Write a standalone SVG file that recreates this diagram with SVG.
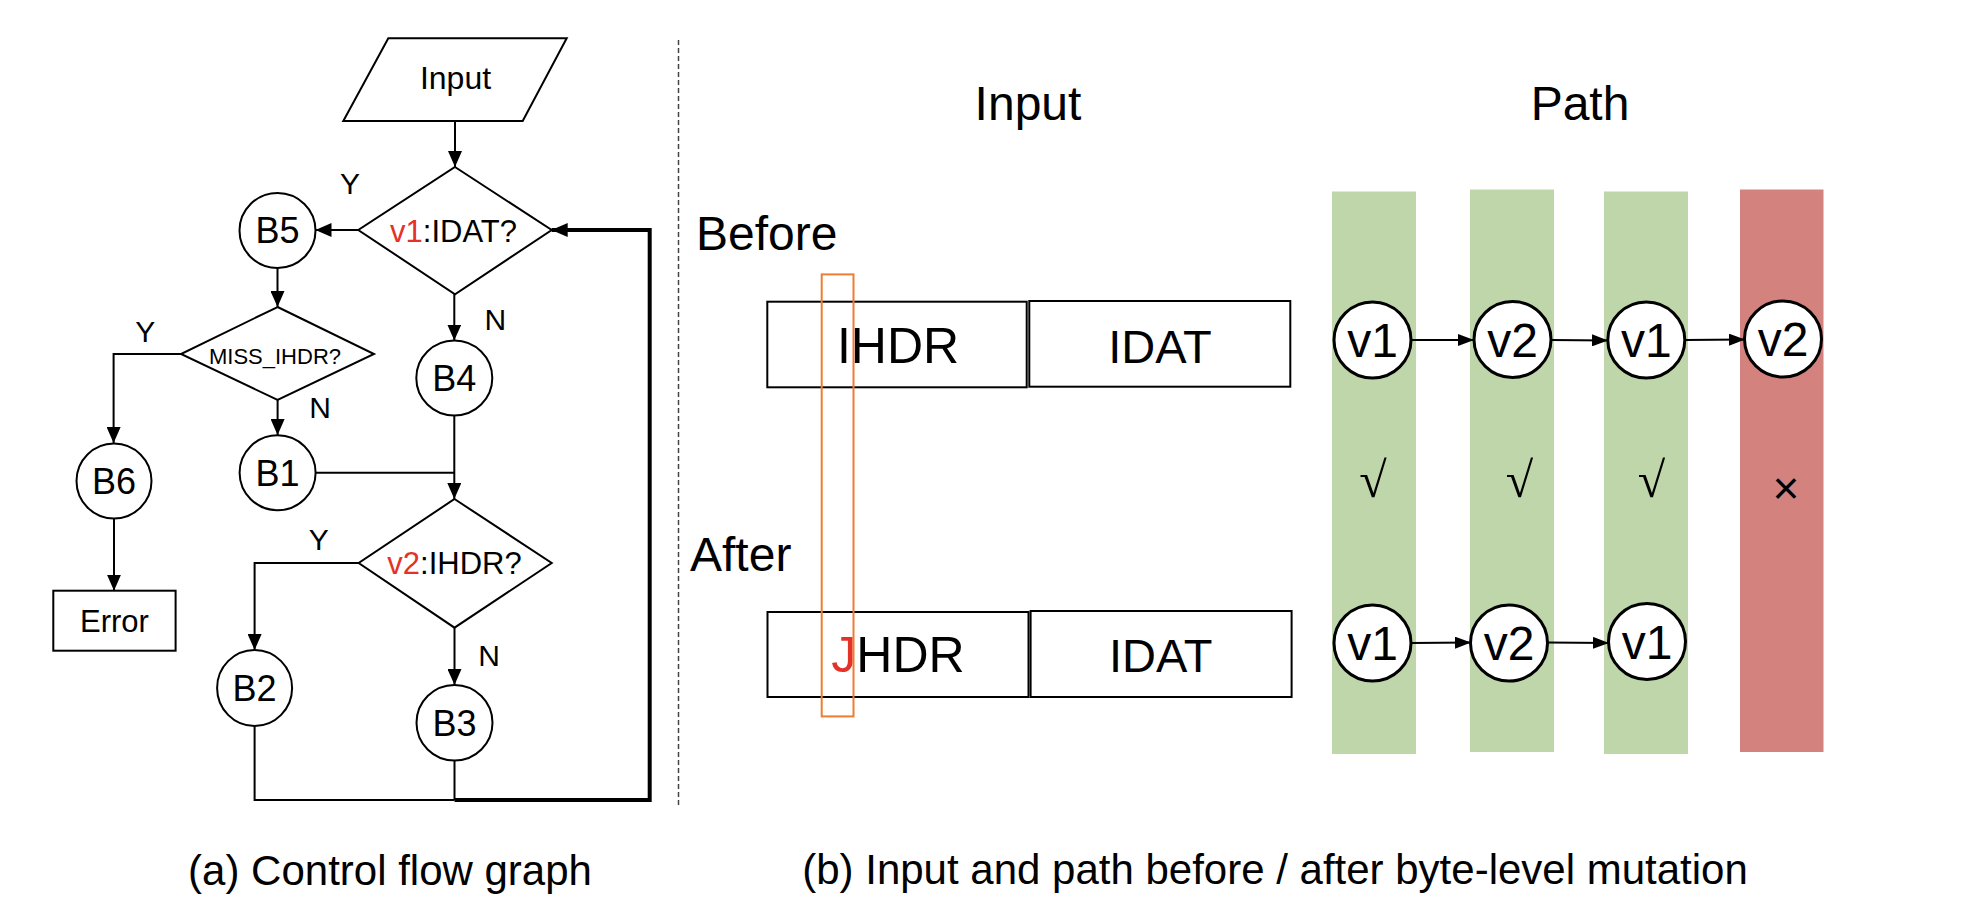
<svg xmlns="http://www.w3.org/2000/svg" width="1974" height="920" viewBox="0 0 1974 920">
<style>
text{font-family:"Liberation Sans",Arial,Helvetica,sans-serif;fill:#000}
.ln{fill:none;stroke:#000;stroke-width:2}
.thick{fill:none;stroke:#000;stroke-width:4}
.shape{fill:#fff;stroke:#000;stroke-width:2}
.node{fill:#fff;stroke:#000;stroke-width:3}
.cfg{font-size:31px;text-anchor:middle}
.bn{font-size:36px;text-anchor:middle}
.lbl{font-size:30px;text-anchor:middle}
.red{fill:#E53228}
.pv{font-size:48px;text-anchor:middle}
.box{fill:#fff;stroke:#000;stroke-width:2}
.green{fill:#BED6AA}
.bad{fill:#D3827E}
.mark{font-family:"Liberation Serif","DejaVu Serif",serif;font-size:50px;text-anchor:middle}
</style>
<defs>
<marker id="ah" markerUnits="userSpaceOnUse" markerWidth="16" markerHeight="14" viewBox="0 0 16 14" refX="16" refY="7" orient="auto"><path d="M0,0 L16,7 L0,14 z" fill="#000"/></marker>
<marker id="ah2" markerUnits="userSpaceOnUse" markerWidth="16" markerHeight="12" viewBox="0 0 16 12" refX="16" refY="6" orient="auto"><path d="M0,0 L16,6 L0,12 z" fill="#000"/></marker>
</defs>

<!-- separator -->
<line x1="678.5" y1="40" x2="678.5" y2="808" stroke="#444" stroke-width="1.5" stroke-dasharray="5 3"/>

<!-- (a) control flow graph -->
<g id="cfg-connectors">
<line class="ln" x1="455" y1="121" x2="455" y2="167" marker-end="url(#ah)"/>
<line class="ln" x1="358" y1="230" x2="315.5" y2="230" marker-end="url(#ah)"/>
<line class="ln" x1="277.5" y1="268" x2="277.5" y2="307" marker-end="url(#ah)"/>
<polyline class="ln" points="181,354 113.6,354 113.6,443" marker-end="url(#ah)"/>
<line class="ln" x1="277.6" y1="400" x2="277.6" y2="435" marker-end="url(#ah)"/>
<line class="ln" x1="454.3" y1="294" x2="454.3" y2="340.5" marker-end="url(#ah)"/>
<line class="ln" x1="454.3" y1="415.5" x2="454.3" y2="499" marker-end="url(#ah)"/>
<line class="ln" x1="315.6" y1="472.7" x2="454.3" y2="472.7"/>
<polyline class="ln" points="358.7,563 254.6,563 254.6,650" marker-end="url(#ah)"/>
<line class="ln" x1="454.5" y1="627.7" x2="454.5" y2="685" marker-end="url(#ah)"/>
<line class="ln" x1="114" y1="518.5" x2="114" y2="590.7" marker-end="url(#ah)"/>
<polyline class="ln" points="254.6,726 254.6,800 454.5,800"/>
<line class="ln" x1="454.5" y1="760.5" x2="454.5" y2="800"/>
<polyline class="thick" points="454.5,800 649.7,800 649.7,230 551.7,230" marker-end="url(#ah)"/>
<text class="lbl" x="350" y="193.5">Y</text>
<text class="lbl" x="145.3" y="341.7">Y</text>
<text class="lbl" x="495.4" y="330">N</text>
<text class="lbl" x="320" y="418">N</text>
<text class="lbl" x="318.8" y="550">Y</text>
<text class="lbl" x="489" y="665.7">N</text>
</g>

<g id="input">
<polygon class="shape" points="388.3,38.3 566.7,38.3 522.7,121 343.3,121"/>
<text class="cfg" x="455.5" y="89.3" style="font-size:32px">Input</text>
</g>
<g id="v1-idat">
<polygon class="shape" points="455,167 551.7,230 455,294.3 358.3,230"/>
<text class="cfg" x="453.5" y="241.5"><tspan class="red">v1</tspan>:IDAT?</text>
</g>
<g id="B5">
<ellipse class="shape" cx="277.5" cy="230.5" rx="38" ry="37.5"/>
<text class="bn" x="277.5" y="243.4">B5</text>
</g>
<g id="miss-ihdr">
<polygon class="shape" points="277.6,307 374,354 277.6,400 181,354"/>
<text class="cfg" x="275" y="364" style="font-size:22px">MISS_IHDR?</text>
</g>
<g id="B4">
<ellipse class="shape" cx="454.3" cy="378" rx="38" ry="37.5"/>
<text class="bn" x="454.3" y="390.9">B4</text>
</g>
<g id="B6">
<ellipse class="shape" cx="114" cy="481" rx="37.5" ry="37.5"/>
<text class="bn" x="114" y="493.9">B6</text>
</g>
<g id="B1">
<ellipse class="shape" cx="277.6" cy="472.7" rx="38" ry="37.5"/>
<text class="bn" x="277.6" y="485.6">B1</text>
</g>
<g id="v2-ihdr">
<polygon class="shape" points="454.5,499 551.7,563 454.5,627.7 358.7,563"/>
<text class="cfg" x="454.5" y="574"><tspan class="red">v2</tspan>:IHDR?</text>
</g>
<g id="error">
<rect class="shape" x="53.3" y="590.7" width="122.3" height="60"/>
<text class="cfg" x="114.5" y="632">Error</text>
</g>
<g id="B2">
<ellipse class="shape" cx="254.6" cy="688" rx="37.5" ry="38"/>
<text class="bn" x="254.6" y="700.9">B2</text>
</g>
<g id="B3">
<ellipse class="shape" cx="454.5" cy="722.7" rx="38" ry="37.8"/>
<text class="bn" x="454.5" y="735.6">B3</text>
</g>

<!-- (b) input and path -->
<g id="headings">
<text x="1028" y="120" style="font-size:48px;text-anchor:middle">Input</text>
<text x="1580" y="120" style="font-size:48px;text-anchor:middle">Path</text>
<text x="696" y="250" style="font-size:48px">Before</text>
<text x="690" y="571" style="font-size:48px">After</text>
</g>
<g id="input-before">
<rect class="box" x="767.3" y="301.7" width="259.4" height="85.6"/>
<text x="898" y="362.7" style="font-size:50px;text-anchor:middle">IHDR</text>
<rect class="box" x="1029.3" y="301" width="261" height="85.7"/>
<text x="1160" y="362.7" style="font-size:47px;text-anchor:middle">IDAT</text>
</g>
<g id="input-after">
<rect class="box" x="767.5" y="612" width="261" height="85"/>
<text x="898" y="672.4" style="font-size:50px;text-anchor:middle"><tspan class="red">J</tspan>HDR</text>
<rect class="box" x="1030.6" y="611" width="261" height="86"/>
<text x="1160.7" y="672.4" style="font-size:47px;text-anchor:middle">IDAT</text>
</g>
<rect id="mutated-byte" x="821.7" y="274.4" width="31.8" height="442" fill="none" stroke="#ED7D31" stroke-width="2"/>

<g id="bars">
<rect class="green" x="1332" y="191.5" width="84" height="562.5"/>
<rect class="green" x="1470" y="189.5" width="84" height="562.5"/>
<rect class="green" x="1604" y="191.5" width="84" height="562.5"/>
<rect class="bad" x="1740" y="189.5" width="83.5" height="562.5"/>
</g>
<g id="path-connectors">
<line class="ln" x1="1411" y1="340" x2="1474" y2="340" marker-end="url(#ah2)"/>
<line class="ln" x1="1551" y1="340" x2="1608" y2="340.5" marker-end="url(#ah2)"/>
<line class="ln" x1="1685" y1="340" x2="1745" y2="339.5" marker-end="url(#ah2)"/>
<line class="ln" x1="1411" y1="643" x2="1471" y2="642.5" marker-end="url(#ah2)"/>
<line class="ln" x1="1547" y1="642.5" x2="1609" y2="643" marker-end="url(#ah2)"/>
</g>
<g id="p1"><ellipse class="node" cx="1372.5" cy="340" rx="38.5" ry="38"/><text class="pv" x="1372.5" y="357">v1</text></g>
<g id="p2"><ellipse class="node" cx="1512.5" cy="339.5" rx="38.5" ry="38"/><text class="pv" x="1512.5" y="356.5">v2</text></g>
<g id="p3"><ellipse class="node" cx="1646.3" cy="340" rx="38.5" ry="38"/><text class="pv" x="1646.3" y="357">v1</text></g>
<g id="p4"><ellipse class="node" cx="1783" cy="339" rx="38.5" ry="38"/><text class="pv" x="1783" y="356">v2</text></g>
<g id="q1"><ellipse class="node" cx="1372.5" cy="643" rx="38.5" ry="38"/><text class="pv" x="1372.5" y="660">v1</text></g>
<g id="q2"><ellipse class="node" cx="1509" cy="643" rx="38.5" ry="38"/><text class="pv" x="1509" y="660">v2</text></g>
<g id="q3"><ellipse class="node" cx="1647" cy="641.5" rx="38.5" ry="38"/><text class="pv" x="1647" y="658.5">v1</text></g>
<g id="marks">
<text class="mark" x="1373" y="497">√</text>
<text class="mark" x="1519.6" y="497">√</text>
<text class="mark" x="1651.6" y="497">√</text>
<text x="1786" y="504" style="font-size:46px;text-anchor:middle">×</text>
</g>

<g id="captions">
<text x="390" y="885" style="font-size:42px;text-anchor:middle">(a) Control flow graph</text>
<text x="1275" y="884" style="font-size:42px;text-anchor:middle">(b) Input and path before / after byte-level mutation</text>
</g>
</svg>
